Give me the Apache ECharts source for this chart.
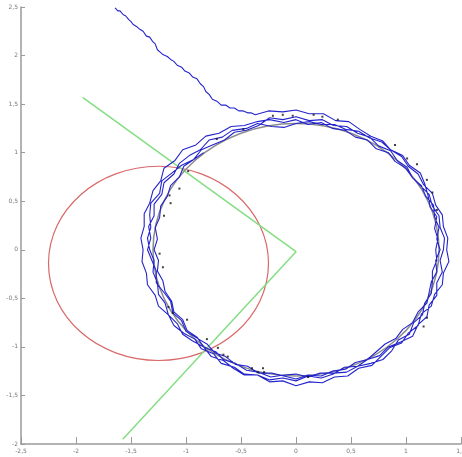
<!DOCTYPE html>
<html>
<head>
<meta charset="utf-8">
<script src="https://cdn.jsdelivr.net/npm/echarts@6/dist/echarts.min.js"></script>
<style>
  html, body { margin: 0; padding: 0; background: #fff; }
  #chart { width: 462px; height: 457px; }
</style>
</head>
<body>
<div id="chart"></div>
<script>
// circles: [centerX, centerY, radius]
var redCircle = [-1.25, -0.14, 1.0];
var refCircle = [0, 0, 1.3];

// green V
var greenPath = [[-1.94, 1.57], [0, -0.02], [-1.575, -1.95]];

// blue trajectory
var approach = [
  [-1.645, 2.49], [-1.62, 2.46], [-1.60, 2.46], [-1.57, 2.42], [-1.55, 2.41], [-1.52, 2.37],
  [-1.50, 2.35], [-1.48, 2.32], [-1.45, 2.30], [-1.42, 2.27], [-1.39, 2.25], [-1.36, 2.20],
  [-1.33, 2.19], [-1.30, 2.14], [-1.28, 2.12], [-1.26, 2.06], [-1.24, 2.04], [-1.21, 2.01],
  [-1.17, 1.99], [-1.14, 1.96], [-1.11, 1.94], [-1.08, 1.90], [-1.04, 1.88], [-1.01, 1.84],
  [-0.97, 1.82], [-0.94, 1.78], [-0.90, 1.76], [-0.87, 1.71], [-0.84, 1.68], [-0.82, 1.63],
  [-0.79, 1.60], [-0.76, 1.55], [-0.72, 1.53], [-0.68, 1.49], [-0.64, 1.49], [-0.60, 1.46],
  [-0.56, 1.46], [-0.52, 1.43], [-0.48, 1.43], [-0.44, 1.41], [-0.41, 1.41]
];
var loop1 = [
  [-0.37, 1.39], [-0.25, 1.43], [-0.12, 1.42], [0, 1.44], [0.12, 1.40], [0.25, 1.40],
  [0.36, 1.33], [0.48, 1.32], [0.58, 1.24], [0.68, 1.17], [0.79, 1.12], [0.86, 1.03],
  [0.96, 0.96], [1.02, 0.86], [1.11, 0.78], [1.16, 0.67], [1.24, 0.58], [1.27, 0.46],
  [1.33, 0.36], [1.34, 0.24], [1.38, 0.12], [1.37, 0], [1.39, -0.12], [1.34, -0.24],
  [1.33, -0.36], [1.26, -0.46], [1.23, -0.58], [1.14, -0.66], [1.11, -0.78], [1.02, -0.86],
  [0.96, -0.96], [0.85, -1.01], [0.77, -1.10], [0.69, -1.19], [0.57, -1.22], [0.47, -1.30],
  [0.35, -1.31], [0.24, -1.37], [0.12, -1.36], [0, -1.40], [-0.12, -1.35], [-0.24, -1.36],
  [-0.35, -1.29], [-0.47, -1.28], [-0.56, -1.21], [-0.68, -1.17], [-0.75, -1.07], [-0.86, -1.02],
  [-0.92, -0.92], [-1.02, -0.86], [-1.11, -0.78], [-1.16, -0.67], [-1.25, -0.58], [-1.28, -0.47],
  [-1.35, -0.36], [-1.36, -0.24], [-1.40, -0.12], [-1.39, 0], [-1.41, 0.12], [-1.38, 0.24],
  [-1.38, 0.37], [-1.33, 0.48], [-1.30, 0.61], [-1.23, 0.71], [-1.20, 0.84], [-1.10, 0.92],
  [-1.03, 1.03], [-0.91, 1.08], [-0.82, 1.17], [-0.70, 1.20], [-0.59, 1.27], [-0.47, 1.28],
  [-0.35, 1.32]
];
var loop2 = [
  [-0.24, 1.34], [-0.11, 1.31], [0, 1.34], [0.11, 1.29], [0.23, 1.31], [0.33, 1.25],
  [0.45, 1.23], [0.54, 1.16], [0.65, 1.13], [0.73, 1.04], [0.84, 1.00], [0.90, 0.91],
  [1.00, 0.84], [1.06, 0.74], [1.14, 0.66], [1.18, 0.55], [1.25, 0.46], [1.26, 0.34],
  [1.30, 0.23], [1.28, 0.11], [1.31, 0], [1.27, -0.11], [1.28, -0.23], [1.23, -0.33],
  [1.21, -0.44], [1.19, -0.55], [1.11, -0.64], [1.06, -0.75], [0.97, -0.82], [0.91, -0.91],
  [0.81, -0.97], [0.73, -1.05], [0.65, -1.13], [0.54, -1.16], [0.45, -1.23], [0.33, -1.25],
  [0.23, -1.30], [0.11, -1.29], [0, -1.33], [-0.11, -1.30], [-0.22, -1.27], [-0.34, -1.27],
  [-0.44, -1.20], [-0.55, -1.18], [-0.64, -1.10], [-0.74, -1.06], [-0.81, -0.97], [-0.90, -0.91],
  [-1.00, -0.84], [-1.04, -0.73], [-1.12, -0.65], [-1.14, -0.53], [-1.20, -0.44], [-1.27, -0.34],
  [-1.27, -0.22], [-1.31, -0.11], [-1.35, 0], [-1.32, 0.12], [-1.34, 0.24], [-1.29, 0.35],
  [-1.29, 0.47], [-1.22, 0.57], [-1.20, 0.69], [-1.11, 0.78], [-1.06, 0.89], [-0.97, 0.97],
  [-0.87, 1.03], [-0.79, 1.13], [-0.67, 1.16], [-0.58, 1.23], [-0.45, 1.25], [-0.35, 1.30]
];
var loop3 = [
  [-0.22, 1.27], [-0.11, 1.26], [0, 1.30], [0.12, 1.32], [0.23, 1.29], [0.35, 1.29],
  [0.45, 1.24], [0.57, 1.22], [0.67, 1.15], [0.78, 1.11], [0.86, 1.03], [0.97, 0.97],
  [1.03, 0.87], [1.13, 0.79], [1.17, 0.68], [1.20, 0.56], [1.22, 0.44], [1.28, 0.34],
  [1.26, 0.22], [1.29, 0.11], [1.27, 0], [1.28, -0.11], [1.24, -0.22], [1.24, -0.33],
  [1.23, -0.45], [1.17, -0.55], [1.15, -0.67], [1.07, -0.75], [1.03, -0.87], [0.93, -0.93],
  [0.87, -1.04], [0.79, -1.13], [0.68, -1.17], [0.56, -1.20], [0.46, -1.26], [0.34, -1.27],
  [0.22, -1.27], [0.11, -1.31], [0, -1.28], [-0.11, -1.29], [-0.23, -1.31], [-0.34, -1.26],
  [-0.45, -1.24], [-0.55, -1.17], [-0.66, -1.13], [-0.73, -1.05], [-0.84, -1.00], [-0.90, -0.90],
  [-0.99, -0.83], [-1.03, -0.72], [-1.11, -0.64], [-1.13, -0.53], [-1.19, -0.43], [-1.21, -0.32],
  [-1.26, -0.22], [-1.25, -0.11], [-1.29, 0], [-1.26, 0.11], [-1.28, 0.23], [-1.24, 0.33],
  [-1.23, 0.45], [-1.17, 0.55], [-1.14, 0.66], [-1.06, 0.75], [-1.02, 0.86], [-0.93, 0.93],
  [-0.86, 1.03], [-0.76, 1.08], [-0.65, 1.13], [-0.56, 1.21], [-0.45, 1.23], [-0.34, 1.28]
];
var loop4 = [
  [-0.24, 1.36], [-0.12, 1.34], [0, 1.37], [0.12, 1.33], [0.24, 1.34], [0.34, 1.28],
  [0.46, 1.27], [0.56, 1.20], [0.67, 1.16], [0.75, 1.07], [0.86, 1.02], [0.92, 0.92],
  [1.01, 0.85], [1.06, 0.74], [1.13, 0.66], [1.21, 0.57], [1.24, 0.45], [1.30, 0.35],
  [1.31, 0.23], [1.35, 0.12], [1.34, 0], [1.31, -0.11], [1.33, -0.23], [1.28, -0.34],
  [1.28, -0.47], [1.21, -0.57], [1.19, -0.69], [1.11, -0.77], [1.06, -0.89], [0.95, -0.95],
  [0.84, -1.00], [0.76, -1.09], [0.65, -1.13], [0.56, -1.20], [0.44, -1.21], [0.34, -1.28],
  [0.23, -1.32], [0.11, -1.30], [0, -1.35], [-0.12, -1.32], [-0.24, -1.34], [-0.35, -1.29],
  [-0.47, -1.29], [-0.57, -1.22], [-0.66, -1.14], [-0.77, -1.10], [-0.84, -1.00], [-0.94, -0.94],
  [-1.03, -0.87], [-1.08, -0.76], [-1.16, -0.67], [-1.19, -0.55], [-1.25, -0.46], [-1.26, -0.34],
  [-1.30, -0.23], [-1.29, -0.11], [-1.33, 0], [-1.35, 0.12], [-1.32, 0.23], [-1.33, 0.36],
  [-1.32, 0.48], [-1.24, 0.58], [-1.22, 0.71], [-1.13, 0.79], [-1.04, 0.87], [-0.93, 0.93],
  [-0.84, 1.00]
];

// black measurement dots
var dots = [
  [-1.06, 0.63], [-1.15, 0.56], [-1.14, 0.48], [-1.20, 0.35], [-1.24, -0.04], [-1.21, -0.18],
  [-1.16, -0.59], [-1.12, -0.65], [-0.99, -0.72], [-0.81, -0.92], [-0.71, -1.01], [-0.66, -1.08],
  [-0.62, -1.10], [-0.40, -1.22], [-0.35, -1.26], [-0.30, -1.22], [-0.29, -1.26], [0.11, -1.31],
  [0.16, 1.39], [0.24, 1.37], [0.38, 1.34], [0.90, 1.08], [1.01, 0.94], [1.10, 0.88],
  [1.19, 0.72], [1.24, 0.59], [1.28, 0.41], [1.19, -0.70], [1.16, -0.79], [-0.21, 1.38],
  [-0.12, 1.39], [-0.03, 1.38], [-0.48, 1.24], [-0.72, 1.14], [-0.98, 0.81]
];

var bluePath = approach.concat(loop1, loop2, loop3, loop4);

function circleItem(color, width) {
  return function (params, api) {
    var c = api.coord([api.value(0), api.value(1)]);
    var s = api.size([api.value(2), api.value(2)]);
    return {
      type: 'ellipse',
      shape: { cx: c[0], cy: c[1], rx: s[0], ry: s[1] },
      style: { fill: null, stroke: color, lineWidth: width }
    };
  };
}

var axisCol = '#9a9a9a';
var lblStyle = {
  fontSize: 6, color: '#777', fontFamily: 'DejaVu Sans',
  formatter: function (v) { return String(v).replace('.', ','); }
};

var chart = echarts.init(document.getElementById('chart'));
chart.setOption({
  animation: false,
  backgroundColor: '#fff',
  grid: { left: 21, right: 1, top: 7, bottom: 13, containLabel: false, outerBoundsMode: 'none' },
  xAxis: {
    type: 'value', min: -2.5, max: 1.5, interval: 0.5,
    axisLine: { onZero: false, lineStyle: { color: axisCol, width: 1.5 } },
    axisTick: { inside: true, length: 7, lineStyle: { color: axisCol } },
    axisLabel: Object.assign({ margin: 4, showMinLabel: true, showMaxLabel: true }, lblStyle),
    splitLine: { show: false }
  },
  yAxis: {
    type: 'value', min: -2, max: 2.5, interval: 0.5,
    axisLine: { show: true, onZero: false, lineStyle: { color: axisCol, width: 1.5 } },
    axisTick: { show: true, inside: true, length: 4, lineStyle: { color: axisCol } },
    axisLabel: Object.assign({ margin: 3, showMinLabel: true, showMaxLabel: true }, lblStyle),
    splitLine: { show: false }
  },
  series: [
    {
      type: 'custom', data: [redCircle], renderItem: circleItem('#d96868', 1.2),
      encode: { x: 0, y: 1 }, silent: true, z: 1
    },
    {
      type: 'line', data: greenPath, symbol: 'none', silent: true, z: 2,
      lineStyle: { color: '#84de84', width: 1.5 }
    },
    {
      type: 'custom', data: [refCircle], renderItem: circleItem('#8c8c8c', 1.5),
      encode: { x: 0, y: 1 }, silent: true, z: 3
    },
    {
      type: 'line', data: bluePath, symbol: 'none', silent: true, z: 4,
      lineStyle: { color: '#2424cc', width: 1.1 }
    },
    {
      type: 'scatter', data: dots, symbol: 'rect', symbolSize: 2, silent: true, z: 5,
      itemStyle: { color: '#111' }
    }
  ]
});
</script>
</body>
</html>
